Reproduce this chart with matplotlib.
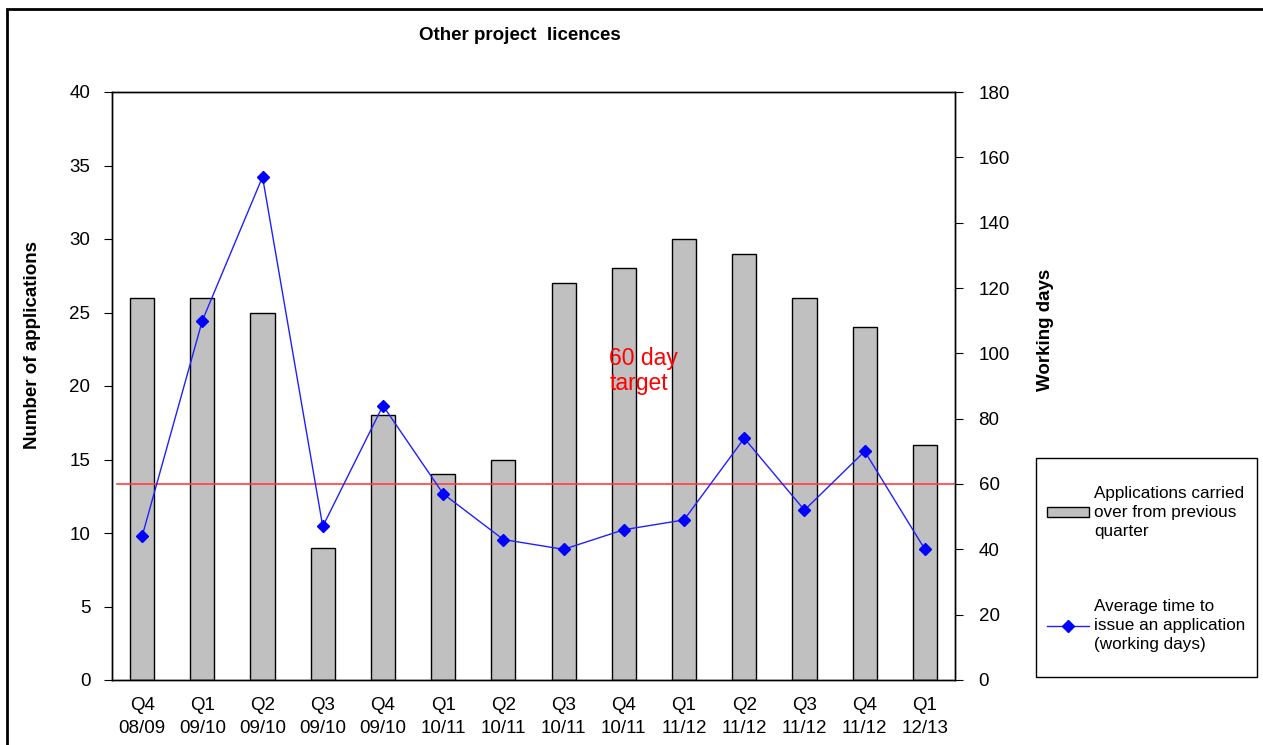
import matplotlib.pyplot as plt
from matplotlib.patches import Rectangle
import numpy as np

plt.rcParams['font.family'] = ['Liberation Sans', 'DejaVu Sans']

# Data
quarters = ['Q4\n08/09', 'Q1\n09/10', 'Q2\n09/10', 'Q3\n09/10', 'Q4\n09/10',
            'Q1\n10/11', 'Q2\n10/11', 'Q3\n10/11', 'Q4\n10/11', 'Q1\n11/12',
            'Q2\n11/12', 'Q3\n11/12', 'Q4\n11/12', 'Q1\n12/13']
carried_over = [26, 26, 25, 9, 18, 14, 15, 27, 28, 30, 29, 26, 24, 16]
avg_days = [44, 110, 154, 47, 84, 57, 43, 40, 46, 49, 74, 52, 70, 40]
target_days = 60

W, H = 1263, 745
fig = plt.figure(figsize=(W / 100, H / 100), dpi=100)
ax = fig.add_axes([112 / W, 65 / H, 843 / W, 588 / H])
ax2 = ax.twinx()

x = np.arange(len(quarters))
bars = ax.bar(x, carried_over, width=0.4, color='#c0c0c0', edgecolor='black',
              linewidth=1, label='Applications carried\nover from previous\nquarter', zorder=2)
ax.set_xlim(-0.5, len(quarters) - 0.5)
ax.set_ylim(0, 40)
ax.set_yticks(range(0, 41, 5))
ax.set_xticks(x)
ax.set_xticklabels(quarters, fontsize=13.5, linespacing=1.5)
ax.tick_params(axis='x', length=0, pad=12)
ax.tick_params(axis='y', direction='out', length=6, labelsize=13.5, pad=9.5)

ax2.set_ylim(0, 180)
ax2.set_yticks(range(0, 181, 20))
ax2.tick_params(axis='y', direction='out', length=6, labelsize=13.5, pad=11)
ax2.axhline(target_days, color='#ff4040', linewidth=1.2, xmin=0.006, zorder=3)
line, = ax2.plot(x, avg_days, color='#2020ff', linewidth=1, marker='D',
                 markersize=6, markerfacecolor='blue', markeredgecolor='blue',
                 label='Average time to\nissue an application\n(working days)', zorder=4)
ax2.text(7.76, 102, '60 day\ntarget', color='red', fontsize=16.5, ha='left',
         va='top', linespacing=1.12)

fig.text(33 / W, 1 - 345 / H, 'Number of applications', fontsize=13.5,
         fontweight='bold', rotation=90, ha='center', va='center')
fig.text(1045 / W, 1 - 330 / H, 'Working days', fontsize=13.5,
         fontweight='bold', rotation=90, ha='center', va='center')
fig.text(520 / W, 1 - 36 / H, 'Other project  licences', fontsize=13.5,
         fontweight='bold', ha='center', va='center')

for a in (ax, ax2):
    for s in a.spines.values():
        s.set_color('black')
        s.set_linewidth(1)

# legend box drawn separately so the entries can sit where the original has them
fig.patches.append(Rectangle((1036 / W, 1 - 677 / H), 221 / W, 219 / H,
                             transform=fig.transFigure, fill=False,
                             edgecolor='black', linewidth=1))
leg = fig.legend([bars, line], [bars.get_label(), line.get_label()],
                 loc='upper left', bbox_to_anchor=(1047 / W, 1 - 486 / H),
                 bbox_transform=fig.transFigure, fontsize=12.3, frameon=False,
                 labelspacing=3.55, handlelength=2.45, handleheight=0.5,
                 handletextpad=0.3, borderpad=0, borderaxespad=0)
for t in leg.get_texts():
    t.set_linespacing(1.32)

fig.patches.append(Rectangle((7 / W, -0.1), 1.2, 1.1 - 9 / H, transform=fig.transFigure,
                             fill=False, edgecolor='black', linewidth=2))

fig.savefig('out.png', dpi=100)
